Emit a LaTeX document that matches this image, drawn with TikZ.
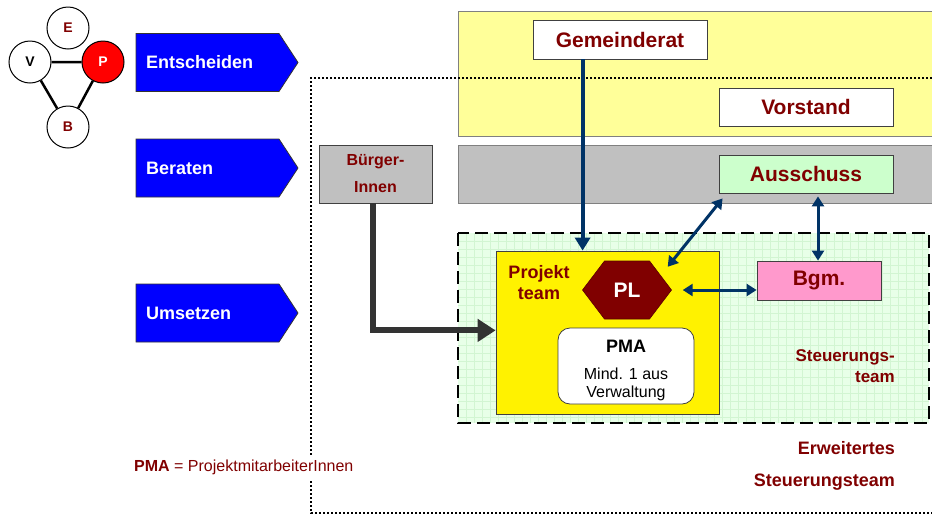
\documentclass[tikz,border=0pt]{standalone}
\usepackage{fontspec}
\setmainfont{Liberation Sans}
\usetikzlibrary{arrows.meta, calc}

\definecolor{darkred}{HTML}{800000}
\definecolor{navyline}{HTML}{003366}
\definecolor{bandyellow}{HTML}{FFFF99}
\definecolor{bandgray}{HTML}{C0C0C0}
\definecolor{ausgreen}{HTML}{CCFFCC}
\definecolor{bgmpink}{HTML}{FF99CC}
\definecolor{stfill}{HTML}{E8FFE8}
\definecolor{stgrid}{HTML}{D2F5D2}
\definecolor{arrowgray}{HTML}{333333}
\definecolor{stageblue}{HTML}{0000FF}

\tikzset{
	role/.style = {circle, draw = black, line width = 1pt, fill = white, minimum size = 42pt, inner sep = 0pt, font = \bfseries\fontsize{14}{16}\selectfont},
	stage/.style = {fill = stageblue, draw = black!80, line width = 0.8pt},
	stagetext/.style = {text = white, inner sep = 0pt, font = \bfseries\fontsize{18}{20}\selectfont},
	box/.style = {draw = black!75, line width = 0.8pt, inner sep = 0pt, text = darkred, font = \bfseries\fontsize{21}{24}\selectfont},
	label/.style = {inner sep = 0pt, text = darkred},
	navyarrow/.style = {draw = navyline, line width = 4pt, -{Triangle[length = 13pt, width = 15pt]}},
	twoway/.style = {draw = navyline, line width = 3pt, {Triangle[length = 10pt, width = 12pt]}-{Triangle[length = 10pt, width = 12pt]}},
	grayarrow/.style = {draw = arrowgray, line width = 6pt, -{Triangle[length = 18pt, width = 22pt]}}
}

\begin{document}
\begin{tikzpicture}[x = 1pt, y = -1pt]
	\useasboundingbox (0,0) rectangle (932,515);
	\clip (0,0) rectangle (932,515);

	% roles
	\begin{scope}
		\node [role, text = darkred] (E) at (68,28) {E};
		\node [role, text = black] (V) at (30,62) {V};
		\node [role, text = white, fill = red] (P) at (103,62) {P};
		\node [role, text = darkred] (B) at (68,127) {B};
		\draw [line width = 2.5pt] (V) -- (P) -- (B) -- (V);
	\end{scope}

	% stages
	\foreach \name/\y in {Entscheiden/62.5, Beraten/168, Umsetzen/313}
	{
		\filldraw [stage] (136,\y-29) -- (279,\y-29) -- (298,\y) -- (279,\y+29) -- (136,\y+29) -- cycle;
		\node [stagetext, anchor = west] (stage-\name) at (146,\y) {\name};
	}

	% bands
	\begin{scope}
		\filldraw [fill = bandyellow, draw = gray, line width = 0.8pt] (940,11) -- (458,11) -- (458,136) -- (940,136);
		\filldraw [fill = bandgray, draw = gray, line width = 0.8pt] (940,145) -- (458,145) -- (458,203) -- (940,203);
	\end{scope}

	% steering team area
	\begin{scope}
		\fill [stfill] (458,233) rectangle (929,423);
		\foreach \x in {466,474,...,926}
		{
			\draw [stgrid, line width = 0.5pt] (\x,233) -- (\x,423);
		}
		\foreach \y in {241,249,...,417}
		{
			\draw [stgrid, line width = 0.5pt] (458,\y) -- (929,\y);
		}
		\draw [line width = 2.5pt, dash pattern = on 13pt off 6pt] (458,233) rectangle (929,423);
	\end{scope}

	\draw [line width = 2pt, dash pattern = on 2pt off 2pt] (940,78) -- (311,78) -- (311,513) -- (940,513);

	% boxes
	\node [box, fill = white, minimum width = 174pt, minimum height = 39pt] (gemeinderat) at (620,39.5) {Gemeinderat};
	\node [box, fill = white, minimum width = 174pt, minimum height = 38pt] (vorstand) at (806,107) {Vorstand};
	\node [box, fill = ausgreen, minimum width = 174pt, minimum height = 38pt] (ausschuss) at (806,174) {Ausschuss};
	\node [box, fill = bgmpink, minimum width = 124pt, minimum height = 39pt] (bgm) at (819,280.5) {Bgm.};
	\node [box, fill = bandgray, minimum width = 113pt, minimum height = 58pt, align = center, font = \bfseries\fontsize{16}{27}\selectfont] (buerger) at (375.5,174) {Bürger-\\Innen};

	\node [draw = black!75, line width = 0.8pt, fill = yellow, minimum width = 223pt, minimum height = 163pt] (pteam) at (607.5,332.5) {};
	\node [label, align = center, font = \bfseries\fontsize{18}{21}\selectfont] (pteam-text) at (539,283) {Projekt\\team};

	\coordinate (PLc) at (627,290);
	\filldraw [fill = darkred, draw = darkred!70!black, line width = 0.6pt] (PLc) ++(-44.5,0) -- ++(22,-29) -- ++(45,0) -- ++(22,29) -- ++(-22,29) -- ++(-45,0) -- cycle;
	\node [inner sep = 0pt, minimum width = 89pt, minimum height = 58pt, text = white, font = \bfseries\fontsize{21}{24}\selectfont] (pl) at (PLc) {PL};

	\node [draw = black!75, line width = 0.8pt, fill = white, rounded corners = 12pt, minimum width = 136pt, minimum height = 76pt] (pma) at (626,366) {};
	\node [inner sep = 0pt, font = \bfseries\fontsize{18}{20}\selectfont] (pma-title) at (626,346) {PMA};
	\node [inner sep = 0pt, align = center, font = \fontsize{16}{18}\selectfont] (pma-text) at (626,384) {Mind. 1 aus\\Verwaltung};

	% texts
	\node [label, anchor = east, align = right, font = \bfseries\fontsize{17}{21}\selectfont] (st-text) at (895,366) {Steuerungs-\\team};
	\node [label, anchor = east, align = right, font = \bfseries\fontsize{18}{32}\selectfont] (est-text) at (895,466) {Erweitertes\\Steuerungsteam};
	\node [label, anchor = west, fill = white, inner ysep = 5pt, font = \fontsize{16}{18}\selectfont] (legend) at (134,467) {\textbf{PMA} = ProjektmitarbeiterInnen};

	% arrows
	\draw [navyarrow] ($(gemeinderat.south west)+(50,0)$) -- ($(pteam.north west)+(87,0)$);
	\draw [twoway] ($(ausschuss.south west)+(4,5)$) -- ($(pl.north east)+(-4,6)$);
	\draw [twoway] ($(ausschuss.south)+(12,3)$) -- ($(bgm.north)+(-1,0)$);
	\draw [twoway] ($(pl.east)+(11,0)$) -- (bgm.west |- pl.east);
	\draw [grayarrow] ($(buerger.south)+(-3,0)$) |- ($(pteam.south west)+(0,-84)$);
\end{tikzpicture}
\end{document}
